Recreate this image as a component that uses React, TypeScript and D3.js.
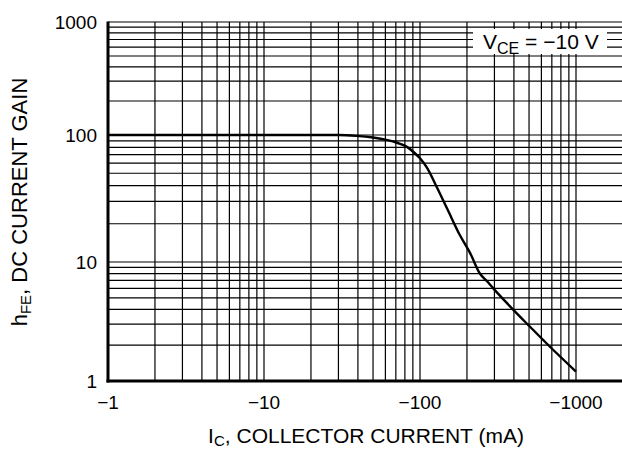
import React, { useEffect, useRef } from "react";
import * as d3 from "d3";

// collector current (mA, magnitude) vs DC current gain
const currentMA = [1, 10, 30, 39, 50, 61, 72, 82, 92, 100, 110, 128, 150, 180, 210, 242, 270, 295, 387, 495, 681, 1000];
const gain = [100, 100, 100, 98.5, 95.5, 91.5, 86.5, 81, 72.5, 65.5, 56, 39, 26, 16.3, 11.7, 8.0, 6.86, 6.0, 4.1, 2.95, 1.94, 1.2];

const decades = [1, 10, 100];
const xTickValues = [1, 10, 100, 1000];
const xTickLabels = ["\u22121", "\u221210", "\u2212100", "\u22121000"];
const yTickValues = [1, 10, 100, 1000];
const yTickLabels = ["1", "10", "100", "1000"];

const FONT = "'Liberation Sans', Arial, Helvetica, sans-serif";

export default function App() {
  const ref = useRef<SVGSVGElement>(null);

  useEffect(() => {
    const W = 622, H = 450;
    const left = 108, top = 22, bottom = 381, right = 622;

    const svg = d3.select(ref.current);
    svg.selectAll("*").remove();
    svg.attr("width", W).attr("height", H);

    const x = d3.scaleLog().domain([1, 1000]).range([left, 576]);
    // the printed grid has slightly uneven decades, so map each one
    const y = d3.scaleLog().domain([1, 10, 100, 1000]).range([bottom, 262, 135, top]);

    const minor: number[] = [];
    decades.forEach(d => d3.range(1, 10).forEach(k => minor.push(d * k)));
    minor.push(1000);

    const grid = svg.append("g").attr("stroke", "#000").attr("stroke-width", 1.2);

    grid.selectAll(".vg")
      .data(minor)
      .join("line")
      .attr("x1", d => x(d)).attr("x2", d => x(d))
      .attr("y1", top).attr("y2", bottom);

    grid.selectAll(".hg")
      .data(minor)
      .join("line")
      .attr("x1", left).attr("x2", right)
      .attr("y1", d => y(d)).attr("y2", d => y(d));

    // axes
    svg.append("line")
      .attr("x1", left).attr("x2", left)
      .attr("y1", top - 0.5).attr("y2", bottom + 1.5)
      .attr("stroke", "#000").attr("stroke-width", 3);
    svg.append("line")
      .attr("x1", left - 1.5).attr("x2", right)
      .attr("y1", bottom).attr("y2", bottom)
      .attr("stroke", "#000").attr("stroke-width", 3);

    // curve
    const line = d3.line<number>()
      .x((_, i) => x(currentMA[i]))
      .y(d => y(d))
      .curve(d3.curveMonotoneX);

    svg.append("path")
      .datum(gain)
      .attr("d", line)
      .attr("fill", "none")
      .attr("stroke", "#000")
      .attr("stroke-width", 2.4);

    // condition label
    svg.append("rect")
      .attr("x", 473).attr("y", 29)
      .attr("width", 134).attr("height", 25)
      .attr("fill", "#fff");
    const lbl = svg.append("text")
      .attr("x", 483).attr("y", 49)
      .attr("font-family", FONT).attr("font-size", 21)
      .attr("fill", "#000");
    lbl.append("tspan").text("V");
    lbl.append("tspan").attr("font-size", 16).attr("dy", 5).text("CE");
    lbl.append("tspan").attr("dy", -5).text(" = \u221210 V");

    // tick labels
    svg.selectAll(".xt")
      .data(xTickValues)
      .join("text")
      .attr("x", d => x(d))
      .attr("y", 409)
      .attr("text-anchor", "middle")
      .attr("font-family", FONT).attr("font-size", 19)
      .text((_, i) => xTickLabels[i]);

    svg.selectAll(".yt")
      .data(yTickValues)
      .join("text")
      .attr("x", 97)
      .attr("y", d => y(d) + 7)
      .attr("text-anchor", "end")
      .attr("font-family", FONT).attr("font-size", 19)
      .text((_, i) => yTickLabels[i]);

    // axis titles
    const xt = svg.append("text")
      .attr("x", 366).attr("y", 443)
      .attr("text-anchor", "middle")
      .attr("font-family", FONT).attr("font-size", 21);
    xt.append("tspan").text("I");
    xt.append("tspan").attr("font-size", 15).attr("dy", 3).text("C");
    xt.append("tspan").attr("dy", -3).text(", COLLECTOR CURRENT (mA)");

    const yt = svg.append("text")
      .attr("transform", `translate(27, 202) rotate(-90)`)
      .attr("text-anchor", "middle")
      .attr("font-family", FONT).attr("font-size", 22);
    yt.append("tspan").text("h");
    yt.append("tspan").attr("font-size", 15).attr("dy", 4).text("FE");
    yt.append("tspan").attr("dy", -4).text(", DC CURRENT GAIN");
  }, []);

  return <svg ref={ref} style={{ position: "absolute", left: 0, top: 0 }} />;
}
